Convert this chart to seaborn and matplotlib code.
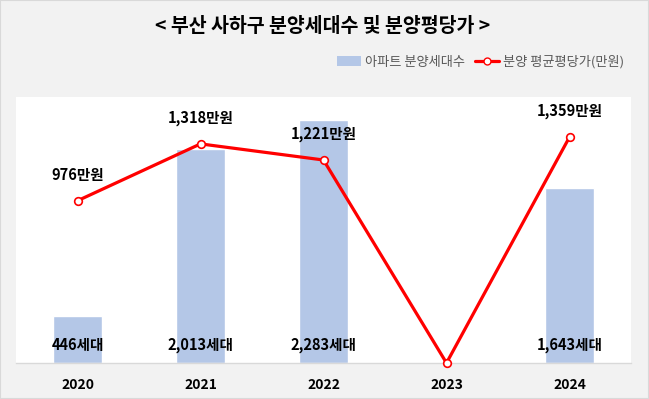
import matplotlib
matplotlib.use("Agg")
import matplotlib.pyplot as plt
import seaborn as sns
import pandas as pd
from matplotlib.patches import Rectangle
from matplotlib.lines import Line2D
from matplotlib.patches import Patch

years = ["2020", "2021", "2022", "2023", "2024"]
units = [446, 2013, 2283, 0, 1643]
price = [976, 1318, 1221, 0, 1359]

title = "< 부산 사하구 분양세대수 및 분양평당가 >"
bar_name = "아파트 분양세대수"
line_name = "분양 평균평당가(만원)"

sns.set_theme(style="white")
plt.rcParams['font.family'] = ['Noto Sans CJK KR', 'DejaVu Sans']

BAR_C = "#b4c7e7"
LINE_C = "#ff0000"

df = pd.DataFrame({"year": years, "units": units, "price": price, "pos": range(len(years))})

fig = plt.figure(figsize=(6.49, 3.99), dpi=100, facecolor="#f2f2f2")
ax = fig.add_axes([16/649, 1-363/399, (631-16)/649, (363-97)/399])
ax.set_facecolor("white")

sns.barplot(data=df, x="year", y="units", color=BAR_C, width=0.4, ax=ax, saturation=1)
ax.set_xlim(-0.5, len(years)-0.5)
ax.set_ylim(0, 2500)

ax2 = ax.twinx()
sns.lineplot(data=df, x="pos", y="price", ax=ax2, color=LINE_C, linewidth=2.3,
             marker="o", markersize=5.5, markerfacecolor="white", markeredgecolor=LINE_C,
             markeredgewidth=1.2, clip_on=False)
ax2.set_ylim(0, 1600)
ax2.set_xlim(-0.5, len(years)-0.5)

for a in (ax, ax2):
    for s in a.spines.values():
        s.set_visible(False)
    a.set_ylabel("")
    a.set_xlabel("")
    a.set_yticks([])
ax.spines['bottom'].set_visible(True)
ax.spines['bottom'].set_color("#d9d9d9")
ax.spines['bottom'].set_linewidth(1)
ax.tick_params(axis='x', length=0, pad=11, labelsize=10)
for t in ax.get_xticklabels():
    t.set_fontweight("bold")
    t.set_color("black")

# bar labels near bottom
for i, v in enumerate(units):
    if v > 0:
        ax.text(i, 18/266*2500, f"{v:,}세대", ha="center", va="center",
                fontsize=10.5, fontweight="bold", color="black")

# line labels above points
for i, v in enumerate(price):
    if v > 0:
        ax2.annotate(f"{v:,}만원", (i, v), xytext=(0, 13), textcoords="offset points",
                     ha="center", va="bottom", fontsize=10.5, fontweight="bold", color="black")

fig.text(323/649, 1-27/399, title, ha="center", va="center", fontsize=14,
         fontweight="bold", color="black")

handles = [Patch(facecolor=BAR_C, edgecolor="none"),
           Line2D([0], [0], color=LINE_C, lw=2.3, marker="o", markersize=5,
                  markerfacecolor="white", markeredgecolor=LINE_C)]
fig.legend(handles, [bar_name, line_name], loc="center right",
           bbox_to_anchor=(636/649, 1-62/399), ncol=2, frameon=False,
           fontsize=9.5, labelcolor="#595959", handlelength=1.8, handletextpad=0.3,
           columnspacing=0.8, handleheight=0.8)

fig.patches.append(Rectangle((0, 0), 1, 1, transform=fig.transFigure, fill=False,
                             edgecolor="#d9d9d9", linewidth=1.5))

fig.savefig("out.png", dpi=100, facecolor=fig.get_facecolor())
